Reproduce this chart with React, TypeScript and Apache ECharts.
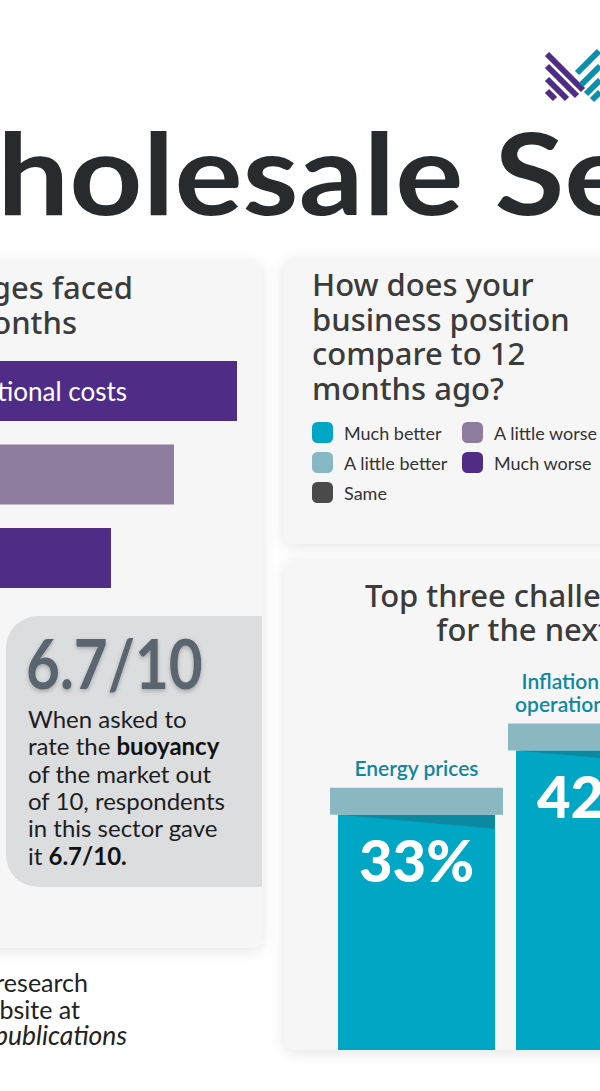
import React, { useEffect, useRef } from "react";
import * as echarts from "echarts";

// ---- data ----
const pastCategories = ["Inflation/operational costs", "Energy prices", "Recruitment"];
const pastValues = [60, 51, 42];
const pastColors = ["#4f2d87", "#8e7d9e", "#4f2d87"];

const positionCategories = ["Much better", "A little better", "Same", "A little worse", "Much worse"];
const positionValues = [18, 32, 30, 14, 6];
const positionColors = ["#00a7c5", "#86b8c3", "#4a4a4a", "#8e7d9e", "#4f2d87"];

const nextCategories = ["Energy prices", "Inflation/higher\noperational costs", "Recruitment/\nretention"];
const nextValues = [33, 42, 30];

const buoyancyScore = "6.7/10";

const BODY = 'Lato, "Noto Sans", sans-serif';
const HEAD = '"Noto Sans", Lato, sans-serif';

export default function App() {
  const ref = useRef<HTMLDivElement>(null);
  useEffect(() => {
    if (!ref.current) return;
    const chart = echarts.init(ref.current, null, { renderer: "svg" });

    const titleSize = 113;
    const cv = document.createElement("canvas").getContext("2d")!;
    cv.font = `bold ${titleSize}px Lato`;
    const wWidth = cv.measureText("W").width;

    // left chart scale: value 0 sits left of the page
    const pastZeroX = -183;
    const pastPxPerUnit = 7;
    const pastMin = -pastZeroX / pastPxPerUnit;
    const pastMax = pastMin + 600 / pastPxPerUnit;

    // podium scale: category spacing in px
    const podLeft = 327.5;
    const podStep = 178;
    const podMax = -0.5 + (600 - podLeft) / podStep;

    const card = (x: number, y: number, w: number, h: number) => ({
      type: "rect",
      shape: { x, y, width: w, height: h, r: 10 },
      style: { fill: "#f6f6f6", shadowBlur: 14, shadowColor: "rgba(0,0,0,0.10)", shadowOffsetY: 3 },
      z: 0,
    });

    const purple = "#4f2d87";
    const teal = "#0b8fab";
    const stripe = (x1: number, y1: number, x2: number, y2: number, c: string) => ({
      type: "line",
      shape: { x1, y1, x2, y2 },
      style: { stroke: c, lineWidth: 6, lineCap: "butt" },
      z: 5,
    });

    const legendBase = {
      orient: "vertical",
      top: 422,
      padding: 0,
      itemWidth: 21,
      itemHeight: 21,
      itemGap: 9,
      icon: "roundRect",
      selectedMode: false,
      textStyle: { fontSize: 18, color: "#333", fontFamily: BODY, padding: [0, 0, 0, 6] },
    };

    const option: any = {
      animation: false,
      backgroundColor: "#ffffff",
      grid: [
        { left: 0, top: 349.25, width: 600, height: 250.5, containLabel: false },
        { left: podLeft, top: 337, width: 600 - podLeft, height: 713, containLabel: false },
      ],
      xAxis: [
        { type: "value", gridIndex: 0, min: pastMin, max: pastMax, show: false },
        { type: "value", gridIndex: 1, min: -0.5, max: podMax, show: false },
      ],
      yAxis: [
        { type: "category", gridIndex: 0, data: pastCategories, inverse: true, show: false },
        { type: "value", gridIndex: 1, min: 0, max: 100, show: false },
      ],
      legend: [
        { ...legendBase, data: positionCategories.slice(0, 3), left: 312 },
        { ...legendBase, data: positionCategories.slice(3), left: 462 },
      ],
      series: [
        {
          type: "bar",
          xAxisIndex: 0,
          yAxisIndex: 0,
          barWidth: 60,
          clip: false,
          data: pastValues.map((v, i) => ({ value: v, itemStyle: { color: pastColors[i] } })),
          label: {
            show: true,
            position: "insideLeft",
            distance: 10,
            formatter: "{b}",
            color: "#ffffff",
            fontSize: 26,
            fontFamily: BODY,
          },
          z: 3,
        },
        {
          type: "pie",
          center: [820, 400],
          radius: [0, 110],
          data: positionCategories.map((n, i) => ({
            name: n,
            value: positionValues[i],
            itemStyle: { color: positionColors[i] },
          })),
          label: { show: false },
        },
        {
          type: "custom",
          xAxisIndex: 1,
          yAxisIndex: 1,
          clip: false,
          data: nextValues.map((v, i) => [i, v]),
          z: 3,
          renderItem: (params: any, api: any) => {
            const idx = api.value(0);
            const val = api.value(1);
            const top = api.coord([idx, val]);
            const base = api.coord([idx, 0]);
            const bw = api.size([1, 0])[0] * 0.882;
            const x = top[0] - bw / 2;
            const capH = 27;
            return {
              type: "group",
              children: [
                { type: "rect", shape: { x, y: top[1], width: bw, height: base[1] - top[1] }, style: { fill: "#00a7c5" } },
                {
                  type: "polygon",
                  shape: { points: [[x, top[1]], [x + bw, top[1]], [x + bw, top[1] + 14]] },
                  style: { fill: "#0b89a1" },
                },
                { type: "rect", shape: { x: x - 8, y: top[1] - capH, width: bw + 16, height: capH }, style: { fill: "#8ab8c2" } },
                {
                  type: "text",
                  style: {
                    text: val + "%",
                    x: top[0],
                    y: top[1] + 45,
                    align: "center",
                    verticalAlign: "middle",
                    fill: "#ffffff",
                    font: `900 58px ${BODY}`,
                  },
                },
                {
                  type: "text",
                  style: {
                    text: nextCategories[idx],
                    x: top[0],
                    y: top[1] - capH - 9,
                    align: "center",
                    verticalAlign: "bottom",
                    fill: "#11879f",
                    font: `600 21px ${BODY}`,
                    lineHeight: 23,
                  },
                },
              ],
            };
          },
        },
      ],
      graphic: [
        card(-200, 260, 462, 688),
        card(283, 258, 420, 286),
        card(284, 560, 640, 490),
        {
          type: "rect",
          shape: { x: 6, y: 616, width: 256, height: 271, r: [32, 0, 0, 32] },
          style: { fill: "#dcdddf" },
          z: 1,
        },
        {
          type: "text",
          x: 4 - wWidth - 5,
          y: 171,
          scaleX: 1.13,
          originX: wWidth + 5,
          style: {
            text: "Wholesale Sector",
            font: `bold ${titleSize}px Lato`,
            fill: "#272b2e",
            verticalAlign: "middle",
            align: "left",
          },
          z: 5,
        },
        {
          type: "text",
          x: 133,
          y: 287,
          style: { text: "Top three challenges faced", font: `500 31px ${HEAD}`, fill: "#3b3b3b", align: "right", verticalAlign: "middle" },
          z: 5,
        },
        {
          type: "text",
          x: 77,
          y: 322,
          style: { text: "in the last 12 months", font: `500 31px ${HEAD}`, fill: "#3b3b3b", align: "right", verticalAlign: "middle" },
          z: 5,
        },
        {
          type: "text",
          x: 312,
          y: 267,
          style: {
            text: "How does your\nbusiness position\ncompare to 12\nmonths ago?",
            font: `500 31px ${HEAD}`,
            lineHeight: 34.5,
            fill: "#3b3b3b",
            align: "left",
            verticalAlign: "top",
          },
          z: 5,
        },
        {
          type: "text",
          x: 606,
          y: 578,
          style: {
            text: "Top three challenges anticipated\nfor the next 12 months",
            font: `500 31px ${HEAD}`,
            lineHeight: 34,
            fill: "#3b3b3b",
            align: "center",
            verticalAlign: "top",
          },
          z: 5,
        },
        {
          type: "text",
          x: 26,
          y: 663,
          scaleX: 0.86,
          originX: 0,
          style: {
            text: buoyancyScore,
            font: `bold 68px ${BODY}`,
            fill: "#5a6570",
            align: "left",
            verticalAlign: "middle",
            textShadowBlur: 4,
            textShadowColor: "rgba(0,0,0,0.25)",
            textShadowOffsetY: 2,
          },
          z: 5,
        },
        {
          type: "text",
          x: 28,
          y: 704.5,
          style: {
            text: "When asked to\nrate the {b|buoyancy}\nof the market out\nof 10, respondents\nin this sector gave\nit {b|" + buoyancyScore + ".}",
            font: `24px ${BODY}`,
            fill: "#1e1e1e",
            lineHeight: 27.4,
            align: "left",
            verticalAlign: "top",
            rich: {
              b: { fontWeight: "bold", fontSize: 24, fontFamily: BODY, fill: "#111", lineHeight: 27.4 },
            },
          },
          z: 5,
        },
        {
          type: "text",
          x: 88,
          y: 982,
          style: { text: "Read more of our research", font: `25px ${BODY}`, fill: "#222", align: "right", verticalAlign: "middle" },
          z: 5,
        },
        {
          type: "text",
          x: 80,
          y: 1008.5,
          style: { text: "on our website at", font: `25px ${BODY}`, fill: "#222", align: "right", verticalAlign: "middle" },
          z: 5,
        },
        {
          type: "text",
          x: 127,
          y: 1035,
          style: { text: "www.mha.co.uk/publications", font: `italic 26.5px ${BODY}`, fill: "#222", align: "right", verticalAlign: "middle" },
          z: 5,
        },
        stripe(547, 54, 583, 90, purple),
        stripe(547, 66, 577, 96, purple),
        stripe(547, 79, 567, 99, purple),
        stripe(547, 91, 555, 99, purple),
        stripe(577, 73, 599, 51, teal),
        stripe(581, 85, 600, 66, teal),
        stripe(586, 94, 600, 80, teal),
        stripe(592, 100, 600, 92, teal),
      ],
    };
    chart.setOption(option);
    return () => chart.dispose();
  }, []);
  return <div ref={ref} style={{ position: "absolute", left: 0, top: 0, width: 600, height: 1091 }} />;
}
